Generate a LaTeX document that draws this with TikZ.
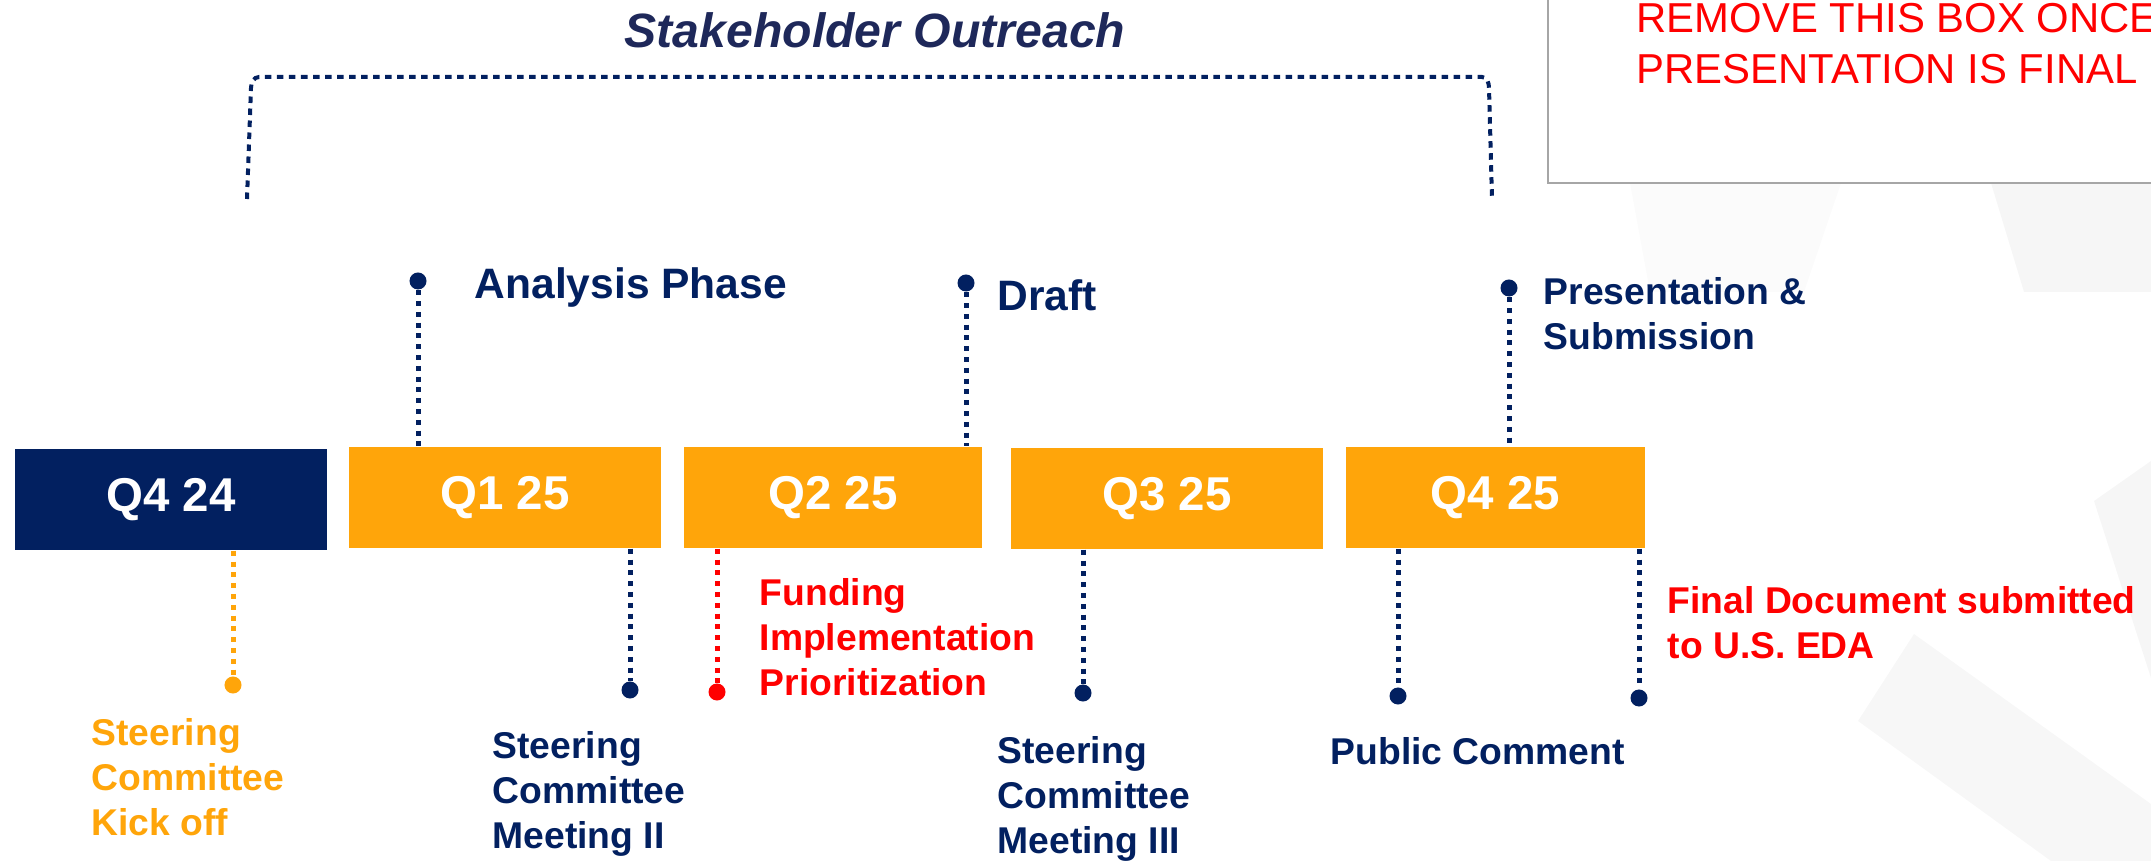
\documentclass[tikz,border=0pt]{standalone}
\usepackage{fontspec}
\setmainfont{Liberation Sans}
\usetikzlibrary{positioning}

\definecolor{azul}{RGB}{2,32,96}
\definecolor{naranja}{RGB}{255,165,10}
\definecolor{titulo}{RGB}{30,40,90}
\definecolor{borde}{RGB}{166,166,166}

\begin{document}
\begin{tikzpicture}[x=0.01cm, y=-0.01cm,
    trimestre/.style={rectangle, inner sep=0, minimum height=1.01cm, text=white,
      font=\fontsize{13.5}{16}\selectfont\bfseries},
    punto/.style={circle, fill, inner sep=0, minimum size=0.17cm},
    etiqueta/.style={anchor=north west, inner sep=0, align=left,
      font=\fontsize{10.6}{12.7}\selectfont\bfseries},
    fase/.style={anchor=base west, inner sep=0, text=azul,
      font=\fontsize{12.1}{14}\selectfont\bfseries},
    linea/.style={line width=0.05cm, dash pattern=on 0.05cm off 0.058cm},
    llave/.style={azul, line width=0.04cm, dash pattern=on 0.065cm off 0.055cm}]
  \useasboundingbox (0,0) rectangle (2151,861);

  % Fondo
  \fill[black!1.5] (1630,183) -- (1841,183) -- (1804,292) -- (1650,292) -- cycle;
  \fill[black!3.5] (1991,183) -- (2024,292) -- (2151,292) -- (2151,183) -- cycle;
  \fill[black!3.5] (2151,461) -- (2094,501) -- (2151,678) -- cycle;
  \fill[black!3] (1914,634) -- (2151,804) -- (2151,861) -- (2051,861) -- (1858,721) -- cycle;

  % Nota
  \draw[borde, fill=white, line width=0.025cm] (1548,-20) rectangle (2200,183);
  \node[anchor=north west, inner sep=0, align=left, text=red,
    font=\fontsize{11.9}{14.4}\selectfont] (nota) at (1636,3)
    {REMOVE THIS BOX ONCE\\PRESENTATION IS FINAL};

  % Titulo y llave
  \node[anchor=base, inner sep=0, text=titulo,
    font=\fontsize{13.7}{16}\selectfont\bfseries\itshape] (stake) at (875,48) {Stakeholder Outreach};
  \draw[llave] (247,199) -- (251,88) to[out=90,in=180] (259,77) -- (1482,77)
    to[out=0,in=90] (1489,88) -- (1492,199);

  % Trimestres
  \node[trimestre, fill=azul, minimum width=3.12cm] (q424) at (171,499.5) {Q4 24};
  \node[trimestre, fill=naranja, minimum width=3.12cm] (q125) at (505,497.5) {Q1 25};
  \node[trimestre, fill=naranja, minimum width=2.98cm] (q225) at (833,497.5) {Q2 25};
  \node[trimestre, fill=naranja, minimum width=3.12cm] (q325) at (1167,498.5) {Q3 25};
  \node[trimestre, fill=naranja, minimum width=2.99cm] (q425) at (1495.5,497.5) {Q4 25};

  % Puntos
  \node[punto, azul] (analisis) at (418,281) {};
  \node[punto, azul] (borrador) at (966,283) {};
  \node[punto, azul] (entrega) at (1509,288) {};
  \node[punto, naranja] (kickoff) at (233,685) {};
  \node[punto, azul] (reunion2) at (630,690) {};
  \node[punto, red] (fondos) at (717,692) {};
  \node[punto, azul] (reunion3) at (1083,693) {};
  \node[punto, azul] (publico) at (1398,696) {};
  \node[punto, azul] (final) at (1639,698) {};

  % Textos
  \node[fase] (tanalisis) at (474,299) {Analysis Phase};
  \node[fase] (tborrador) at (997,311) {Draft};
  \node[etiqueta, text=azul] (tentrega) at (1543,277) {Presentation \&\\Submission};
  \node[etiqueta, text=naranja] (tkickoff) at (91,718) {Steering\\Committee\\Kick off};
  \node[etiqueta, text=azul] (treunion2) at (492,731) {Steering\\Committee\\Meeting II};
  \node[etiqueta, text=red] (tfondos) at (759,578) {Funding\\Implementation\\Prioritization};
  \node[etiqueta, text=azul] (treunion3) at (997,736) {Steering\\Committee\\Meeting III};
  \node[etiqueta, anchor=base west, text=azul] (tpublico) at (1330,764) {Public Comment};
  \node[etiqueta, text=red] (tfinal) at (1667,586) {Final Document submitted\\to U.S. EDA};

  % Lineas
  \draw[linea, azul] (analisis) -- (analisis |- q125.north);
  \draw[linea, azul] (borrador) -- (borrador |- q225.north);
  \draw[linea, azul] (entrega) -- (entrega |- q425.north);
  \draw[linea, naranja] (q424.south -| kickoff) -- (kickoff);
  \draw[linea, azul] (q125.south -| reunion2) -- (reunion2);
  \draw[linea, red] (q225.south -| fondos) -- (fondos);
  \draw[linea, azul] (q325.south -| reunion3) -- (reunion3);
  \draw[linea, azul] (q425.south -| publico) -- (publico);
  \draw[linea, azul] (q425.south -| final) -- (final);
\end{tikzpicture}
\end{document}
